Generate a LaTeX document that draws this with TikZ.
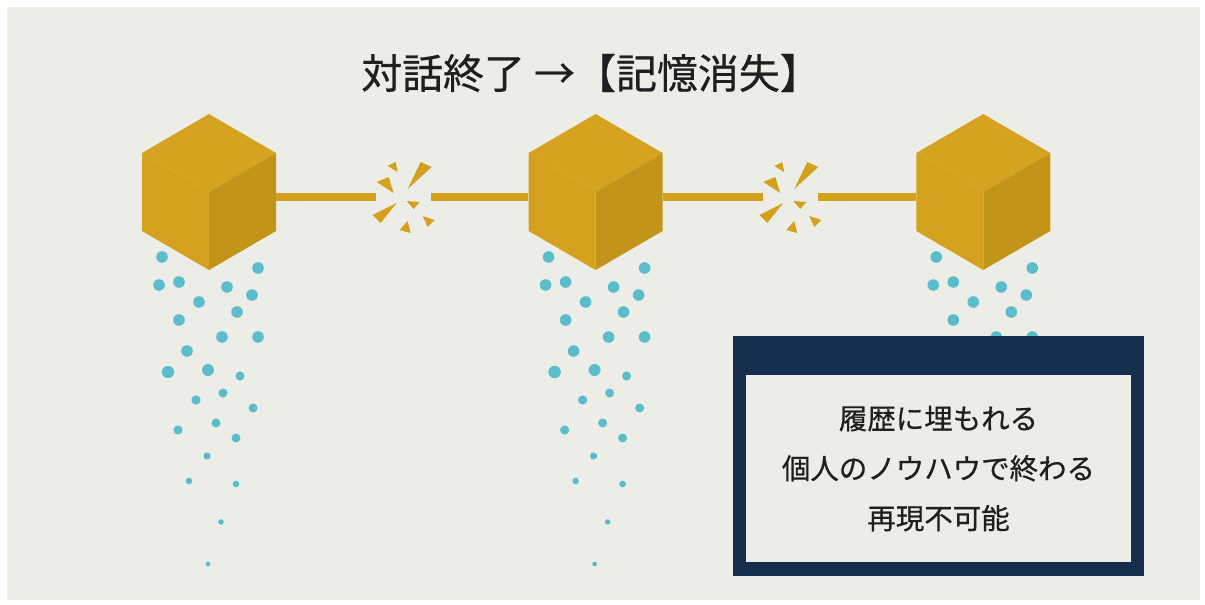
\documentclass[tikz,border=0pt]{standalone}
\usepackage{fontspec}
\newfontfamily\jpfont{Noto Sans CJK JP}[FakeBold=0.6]
\usepackage{xcolor}
\usetikzlibrary{positioning}
\definecolor{paper}{HTML}{EDEDE8}
\definecolor{gold}{HTML}{D4A11F}
\definecolor{goldtop}{HTML}{D6A321}
\definecolor{golddark}{HTML}{C3941A}
\definecolor{teal}{HTML}{5BBDCB}
\definecolor{navy}{HTML}{152E4D}
\definecolor{ink}{HTML}{1F1F1F}

\begin{document}
\begin{tikzpicture}[
  x=0.02cm,y=-0.02cm,
  cubebox/.style={minimum width=2.68cm,minimum height=3.12cm,inner sep=0pt},
  breakgap/.style={minimum width=1.08cm,minimum height=0.2cm,inner sep=0pt},
  bar/.style={gold,line width=5.1pt},
  shard/.style={fill=gold},
  droplet/.style={fill=teal},
  heading/.style={font=\jpfont\fontsize{23.3}{28}\selectfont,text=ink},
  memoframe/.style={fill=navy,minimum width=8.22cm,minimum height=4.8cm,inner sep=0pt},
  memopane/.style={fill=paper,minimum width=7.7cm,minimum height=3.74cm,inner sep=0pt,
    align=center,font=\jpfont\fontsize{16.2}{28.4}\selectfont,text=ink},
]

% Paper
\fill[white] (0,0) rectangle (1205,605);
\fill[paper] (7,7) rectangle (1200,600);

% Title
\node[heading] (title) at (591,73) {対話終了 →【記憶消失】};

% Cubes and broken links
\node[cubebox] (cube1) at (209,192) {};
\node[cubebox,right=5.04cm of cube1] (cube2) {};
\node[cubebox,right=5.06cm of cube2] (cube3) {};
\node[breakgap,right=2cm of cube1] (brk1) {};
\node[breakgap,right=2cm of cube2] (brk2) {};

\draw[bar] ([yshift=-0.1cm]cube1.east) -- ([yshift=-0.1cm]brk1.west);
\draw[bar] ([yshift=-0.1cm]brk1.east) -- ([yshift=-0.1cm]cube2.west);
\draw[bar] ([yshift=-0.1cm]cube2.east) -- ([yshift=-0.1cm]brk2.west);
\draw[bar] ([yshift=-0.1cm]brk2.east) -- ([yshift=-0.1cm]cube3.west);

% Shards where the link snaps
\foreach \b in {brk1,brk2} {
  \begin{scope}[shift={(\b.center)}]
    \fill[shard] (-16,-26) -- (-8,-30) -- (-6,-20) -- cycle;
    \fill[shard] (4,-3) -- (17,-30) -- (28,-25) -- cycle;
    \fill[shard] (-27,-10) -- (-15,-15) -- (-10,1) -- cycle;
    \fill[shard] (3,9) -- (16,10) -- (10,17) -- cycle;
    \fill[shard] (-31,23) -- (-7,11) -- (-23,31) -- cycle;
    \fill[shard] (-4,38) -- (4,29) -- (7,41) -- cycle;
    \fill[shard] (19,24) -- (31,28) -- (24,35) -- cycle;
  \end{scope}
}

% Drops falling from each cube
\foreach \c in {cube1,cube2,cube3} {
  \foreach \dx/\dy/\r in {-47/65/5.8, 49/76/5.8, -50/93/5.8, -30/90/5.8, 18/95/5.8,
      43/103/5.8, -10/110/5.8, 28/120/5.8, -30/128/5.8, 13/145/5.8, 49/145/5.8,
      -22/159/5.8, -41/180/6.2, -1/178/6, 31/184/4.5, -13/208/4.6, 14/201/4.5,
      44/216/4.5, -31/238/4.6, 7/231/4.5, 27/246/4.5, -2/264/3.6, -20/289/3.3,
      27/292/3.3, 12/330/2.8, -1/372/2.4}
    \fill[droplet] ([shift={(\dx,\dy)}]\c.center) circle[radius=\r*0.02cm];
}

% Cube faces
\foreach \c in {cube1,cube2,cube3} {
  \begin{scope}[shift={(\c.center)}]
    \fill[goldtop] (0,0) -- (-67,-39) -- (0,-78) -- (67,-39) -- cycle;
    \fill[gold] (0,0) -- (-67,-39) -- (-67,39) -- (0,78) -- cycle;
    \fill[golddark] (0,0) -- (67,-39) -- (67,39) -- (0,78) -- cycle;
  \end{scope}
}

% Note box
\node[memoframe] (memo) at (938.5,456) {};
\node[memopane,below=0.78cm of memo.north] (pane) {履歴に埋もれる\\個人のノウハウで終わる\\再現不可能};

\end{tikzpicture}
\end{document}
